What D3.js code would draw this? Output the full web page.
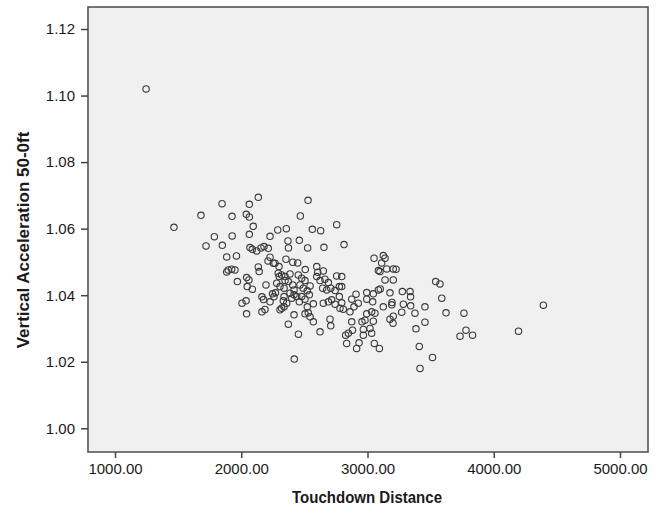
<!DOCTYPE html>
<html>
<head>
<meta charset="utf-8">
<script src="https://cdn.jsdelivr.net/npm/d3@7"></script>
<style>
  html, body { margin: 0; padding: 0; background: #ffffff; }
  svg { display: block; }
  text { font-family: Arial, "Liberation Sans", sans-serif; }
</style>
</head>
<body>
<svg id="chart" width="662" height="513"></svg>
<script>
// ---- Data ----
const touchdownDistance = [
  1246,1467,1681,1721,1787,1848,1850,1885,1885,1897,1924,1950,1927,1928,1962,1969,
  2006,2038,2040,2064,2064,2064,2069,2088,2122,2095,2135,2043,2061,2047,2088,2042,2135,2142,
  2156,2180,2214,2228,2212,2254,2196,2164,2176,2228,2248,2271,2259,2164,2188,2281,2301,2289,2228,2267,2293,2307,2307,
  2357,2370,2374,2460,2468,2354,2408,2447,2320,2347,2386,2339,2373,2408,2418,2339,2333,2360,2386,2400,2418,2439,2460,
  2320,2339,2418,2373,2453,2420,2452,2299,2347,
  2479,2505,2507,2526,2529,2465,2491,2523,2545,2479,2505,2523,2539,2571,2505,2531,2545,2571,2563,2598,2606,2598,2624,
  2629,2655,2650,2624,2663,2690,2645,2677,2709,2743,2777,2796,2756,2796,2756,2814,2650,2690,2716,2743,2777,2796,2703,2709,2782,2808,
  2827,2848,2835,2875,2881,2875,2909,2893,2927,2861,2914,2933,2967,2967,3020,3033,3054,3094,2956,2980,3046,3059,2994,3041,3033,2994,2994,3046,3086,3052,3086,
  3125,3139,3112,3099,3152,3204,3139,3204,3101,3178,3125,3192,3194,3204,3178,3202,3226,
  3276,3337,3341,3284,3342,3271,3376,3455,3455,3384,3410,3515,3416,3540,3574,
  3588,3622,3764,3780,3733,3832,4196,4393
];
const verticalAcceleration = [
  1.1020,1.0604,1.0640,1.0548,1.0576,1.0675,1.0550,1.0515,1.0470,1.0476,1.0478,1.0476,1.0637,1.0578,1.0518,1.0441,
  1.0376,1.0383,1.0643,1.0635,1.0673,1.0583,1.0543,1.0538,1.0533,1.0607,1.0694,1.0453,1.0446,1.0426,1.0418,1.0344,1.0485,1.0471,
  1.0542,1.0546,1.0541,1.0514,1.0503,1.0496,1.0431,1.0395,1.0387,1.0380,1.0404,1.0407,1.0395,1.0350,1.0357,1.0436,1.0456,1.0596,1.0577,1.0496,1.0466,1.0426,1.0356,
  1.0600,1.0563,1.0542,1.0565,1.0638,1.0508,1.0499,1.0497,1.0461,1.0456,1.0464,1.0421,1.0441,1.0431,1.0416,1.0396,1.0383,1.0376,1.0406,1.0391,1.0401,1.0396,1.0380,
  1.0361,1.0365,1.0341,1.0313,1.0283,1.0208,1.0461,1.0486,1.0444,
  1.0451,1.0444,1.0477,1.0542,1.0685,1.0431,1.0421,1.0413,1.0428,1.0396,1.0388,1.0365,1.0401,1.0374,1.0344,1.0347,1.0335,1.0320,1.0598,1.0486,1.0469,1.0456,1.0290,
  1.0594,1.0544,1.0473,1.0444,1.0448,1.0438,1.0421,1.0416,1.0421,1.0414,1.0426,1.0426,1.0458,1.0456,1.0612,1.0552,1.0376,1.0380,1.0386,1.0373,1.0396,1.0377,1.0328,1.0308,1.0361,1.0358,
  1.0280,1.0286,1.0255,1.0320,1.0295,1.0388,1.0403,1.0365,1.0376,1.0350,1.0240,1.0257,1.0280,1.0297,1.0300,1.0286,1.0255,1.0240,1.0320,1.0325,1.0322,1.0346,1.0388,1.0380,1.0350,1.0344,1.0408,1.0404,1.0416,1.0511,1.0474,
  1.0519,1.0511,1.0497,1.0471,1.0479,1.0479,1.0446,1.0446,1.0419,1.0407,1.0365,1.0371,1.0378,1.0337,1.0328,1.0316,1.0478,
  1.0411,1.0411,1.0395,1.0373,1.0368,1.0349,1.0346,1.0365,1.0319,1.0299,1.0246,1.0213,1.0180,1.0441,1.0434,
  1.0391,1.0347,1.0346,1.0295,1.0277,1.0280,1.0292,1.0370
];
const xTickValues = [1000, 2000, 3000, 4000, 5000];
const yTickValues = [1.00, 1.02, 1.04, 1.06, 1.08, 1.10, 1.12];
const xTitle = "Touchdown Distance";
const yTitle = "Vertical Acceleration 50-0ft";

const points = touchdownDistance.map((d, i) => ({ x: d, y: verticalAcceleration[i] }));

// ---- Layout ----
const plot = { left: 88, right: 648, top: 7, bottom: 452 };

const x = d3.scaleLinear().domain([1000, 5000]).range([115, 620]);
const y = d3.scaleLinear().domain([1.00, 1.12]).range([428.3, 29]);

const svg = d3.select("#chart");

// plot background + frame
svg.append("rect")
  .attr("x", plot.left).attr("y", plot.top)
  .attr("width", plot.right - plot.left).attr("height", plot.bottom - plot.top)
  .attr("fill", "#f0f0f0")
  .attr("stroke", "#555").attr("stroke-width", 1.6);

// axes
const xAxis = d3.axisBottom(x).tickValues(xTickValues).tickFormat(d3.format(".2f")).tickSizeOuter(0).tickSize(6).tickPadding(5);
const yAxis = d3.axisLeft(y).tickValues(yTickValues).tickFormat(d3.format(".2f")).tickSizeOuter(0).tickSize(7).tickPadding(6);

const gx = svg.append("g").attr("transform", `translate(0,${plot.bottom})`).call(xAxis);
const gy = svg.append("g").attr("transform", `translate(${plot.left},0)`).call(yAxis);

[gx, gy].forEach(g => {
  g.select(".domain").remove();
  g.selectAll(".tick line").attr("stroke", "#444").attr("stroke-width", 1.5);
  g.selectAll(".tick text").attr("fill", "#1a1a1a").style("font-size", "15px");
});

// points
svg.append("g").selectAll("circle")
  .data(points)
  .join("circle")
  .attr("cx", d => x(d.x))
  .attr("cy", d => y(d.y))
  .attr("r", 3.2)
  .attr("fill", "none")
  .attr("stroke", "#3a3a3a")
  .attr("stroke-width", 1.1);

// axis titles
svg.append("text")
  .attr("x", 367).attr("y", 503)
  .attr("text-anchor", "middle")
  .style("font-size", "17px").style("font-weight", "bold").attr("fill", "#1a1a1a")
  .attr("textLength", 150).attr("lengthAdjust", "spacingAndGlyphs")
  .text(xTitle);

svg.append("text")
  .attr("transform", "translate(29,240) rotate(-90)")
  .attr("text-anchor", "middle")
  .style("font-size", "17px").style("font-weight", "bold").attr("fill", "#1a1a1a")
  .text(yTitle);
</script>
</body>
</html>
